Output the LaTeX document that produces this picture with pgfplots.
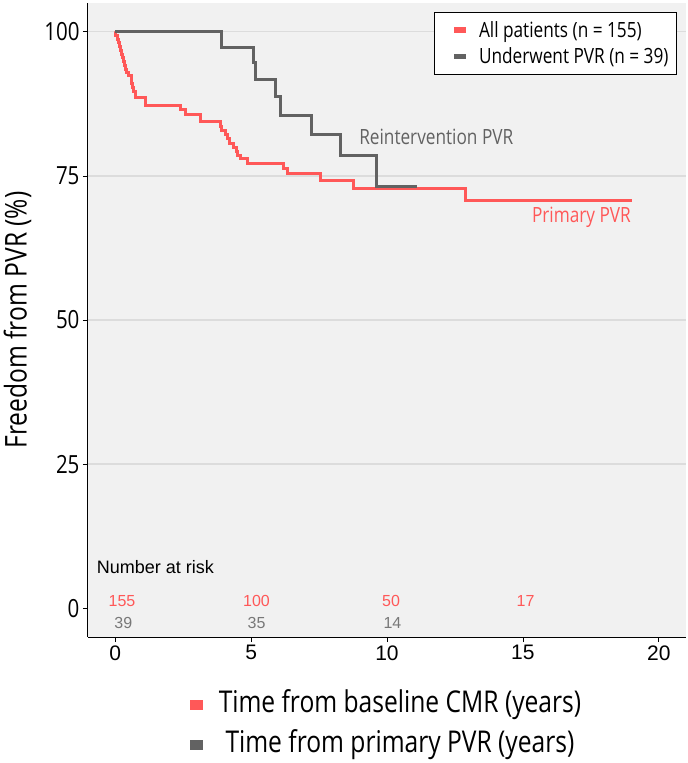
\documentclass[border=0pt]{standalone}
\usepackage{pgfplots}
\pgfplotsset{compat=1.18}
\usepackage{fontspec}
\setmainfont{Liberation Sans}
\newfontfamily\cond[FakeStretch=0.82]{Open Sans}
\definecolor{kmred}{RGB}{255,88,88}
\definecolor{kmgrey}{RGB}{98,98,98}
\definecolor{riskgrey}{RGB}{120,120,120}
\definecolor{bg}{RGB}{241,241,241}
\definecolor{gridc}{RGB}{220,220,220}
\begin{document}
\begin{tikzpicture}
\begin{axis}[
  scale only axis, width=598pt, height=634pt,
  xmin=-1, xmax=21, ymin=-5, ymax=105,
  axis x line=bottom, axis y line=left,
  axis line style={-, line width=1pt, black},
  axis background/.style={fill=bg},
  /pgf/number format/assume math mode=true,
  xtick={0,5,10,15,20},
  ytick={25,50,75,100},
  extra y ticks={0}, extra y tick style={grid=none},
  ymajorgrids, major grid style={gridc, line width=1.2pt},
  tick align=outside, major tick length=5pt,
  tick style={black, line width=0.8pt},
  xticklabel style={font=\fontsize{21}{21}\selectfont},
  yticklabel style={font=\cond\fontsize{25}{25}\selectfont},
  ylabel={Freedom from PVR (\%)},
  ylabel style={font=\cond\fontsize{30}{30}\selectfont, yshift=-4pt},
  legend style={at={(rel axis cs:0.985,0.9858)}, anchor=north east,
    draw=black, line width=1pt, fill=white,
    font=\cond\fontsize{21}{24}\selectfont,
    inner xsep=6pt, inner ysep=7pt, row sep=5pt, cells={anchor=west}},
  legend image code/.code={\path[draw=none] (0pt,0pt) -- (37pt,0pt);\fill[#1, draw=none] (14pt,-2.8pt) rectangle (26pt,2.8pt);},
  clip=false,
]
\addplot[kmred, line width=3pt, const plot] coordinates {
(0,100) (0.03,99.4) (0.08,98.7) (0.12,98.1) (0.16,97.4) (0.2,96.8) (0.24,96.1)
(0.27,95.5) (0.31,94.8) (0.35,94.2) (0.38,93.5) (0.42,92.9) (0.48,92.4)
(0.6,91.0) (0.64,90.3) (0.68,89.6) (0.74,88.6) (1.1,87.2) (2.39,86.6)
(2.57,85.7) (3.13,84.5) (3.86,83.6) (3.92,82.8) (4.05,82.2) (4.12,81.5)
(4.2,80.6) (4.35,79.9) (4.45,79.2) (4.5,78.5) (4.6,78.0) (4.85,77.1)
(6.2,76.3) (6.35,75.4) (7.54,74.2) (8.76,72.9) (12.87,70.7) (19.03,70.7)
};
\addlegendentry{All patients (n = 155)}
\addplot[kmgrey, line width=3pt, const plot] coordinates {
(0,100) (3.92,97.3) (5.09,94.7) (5.15,91.8) (5.88,88.7) (6.07,85.4)
(7.23,82.1) (8.3,78.5) (9.6,73.2) (11.11,73.2)
};
\addlegendentry{Underwent PVR (n = 39)}
\node[kmgrey, anchor=west, font=\cond\fontsize{21}{21}\selectfont] at (axis cs:8.85,81.8) {Reintervention PVR};
\node[kmred, anchor=east, font=\cond\fontsize{21}{21}\selectfont] at (axis cs:19.1,67.8) {Primary PVR};
\node[anchor=west, font=\fontsize{18}{18}\selectfont] at (axis cs:-0.8,7.1) {Number at risk};
\node[kmred, font=\fontsize{16}{16}\selectfont] at (axis cs:0.25,1.2) {155};
\node[kmred, font=\fontsize{16}{16}\selectfont] at (axis cs:5.2,1.2) {100};
\node[kmred, font=\fontsize{16}{16}\selectfont] at (axis cs:10.15,1.2) {50};
\node[kmred, font=\fontsize{16}{16}\selectfont] at (axis cs:15.1,1.2) {17};
\node[riskgrey, font=\fontsize{16}{16}\selectfont] at (axis cs:0.3,-2.6) {39};
\node[riskgrey, font=\fontsize{16}{16}\selectfont] at (axis cs:5.2,-2.6) {35};
\node[riskgrey, font=\fontsize{16}{16}\selectfont] at (axis cs:10.2,-2.6) {14};
\end{axis}
\node[anchor=center] at (108pt,-68pt) {\textcolor{kmred}{\rule{13pt}{10pt}}};
\node[anchor=center] at (108pt,-108pt) {\textcolor{kmgrey}{\rule{13pt}{10pt}}};
\node[anchor=center, font=\cond\fontsize{30}{30}\selectfont] at (312pt,-68pt) {Time from baseline CMR (years)};
\node[anchor=center, font=\cond\fontsize{30}{30}\selectfont] at (312pt,-108pt) {Time from primary PVR (years)};
\pgfresetboundingbox
\useasboundingbox (-88pt,-126pt) rectangle (600pt,637pt);
\end{tikzpicture}
\end{document}
